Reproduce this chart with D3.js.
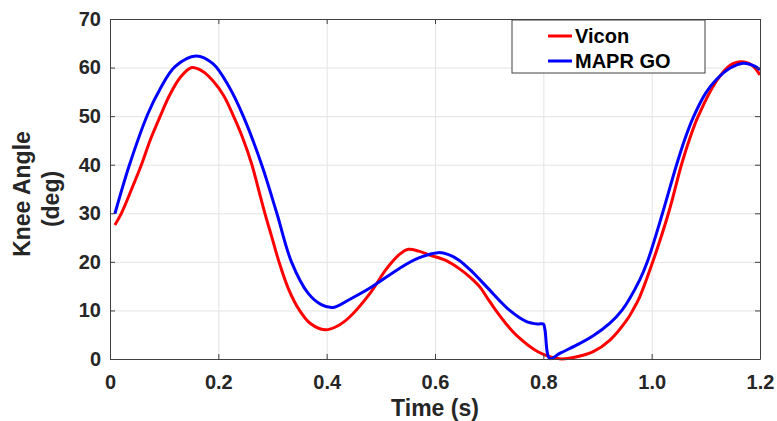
<!DOCTYPE html>
<html>
<head>
<meta charset="utf-8">
<script src="https://cdn.jsdelivr.net/npm/d3@7"></script>
<style>
  body { margin: 0; background: #fff; }
  svg { display: block; font-family: 'Liberation Sans', Arial, sans-serif; }
</style>
</head>
<body>
<svg id="chart" width="777" height="421"></svg>
<script>
// values
const seriesNames = ['Vicon', 'MAPR GO']
const seriesColors = ['#ff0000', '#0000ff']

const viconTime = [0.009, 0.021, 0.04, 0.058, 0.075, 0.092, 0.11, 0.13, 0.151, 0.17, 0.19, 0.21, 0.228, 0.245, 0.262, 0.274, 0.286, 0.299, 0.312, 0.33, 0.35, 0.37, 0.397, 0.42, 0.443, 0.48, 0.51, 0.535, 0.551, 0.57, 0.59, 0.62, 0.646, 0.665, 0.683, 0.697, 0.711, 0.73, 0.751, 0.79, 0.83, 0.86, 0.892, 0.923, 0.954, 0.965, 0.978, 1.002, 1.031, 1.055, 1.07, 1.086, 1.12, 1.145, 1.166, 1.185, 1.2]
const viconAngle = [27.6, 30, 35, 40, 45.3, 49.8, 54.3, 58, 60, 59.3, 57.3, 54.2, 50, 45.5, 40, 35, 30, 25, 20, 14.3, 10, 7.3, 6.0, 6.8, 8.7, 13.5, 18.5, 21.6, 22.6, 22.2, 21.4, 20.3, 18.5, 16.8, 14.8, 12.5, 10.2, 7.4, 4.8, 1.5, 0.05, 0.4, 1.5, 3.9, 8.0, 10, 12.8, 20, 30, 40, 45.3, 50, 57.3, 60.5, 61.2, 60.5, 58.5]

const maprTime = [0.009, 0.036, 0.07, 0.092, 0.12, 0.159, 0.19, 0.22, 0.246, 0.28, 0.308, 0.335, 0.366, 0.39, 0.412, 0.443, 0.48, 0.535, 0.57, 0.606, 0.625, 0.645, 0.67, 0.695, 0.738, 0.769, 0.79, 0.8, 0.803, 0.812, 0.831, 0.862, 0.892, 0.923, 0.945, 0.978, 0.992, 1.02, 1.046, 1.062, 1.077, 1.1, 1.12, 1.145, 1.169, 1.19, 1.2]
const maprAngle = [29.9, 40, 50.5, 55.5, 60.2, 62.4, 60.8, 56, 50, 40, 30, 20, 13.5, 11.2, 10.6, 12.3, 14.6, 18.7, 20.8, 21.9, 21.5, 20.3, 17.8, 14.9, 10, 7.7, 7.2, 7.2, 6, 0.1, 1.2, 2.9, 4.8, 7.4, 10, 16.3, 20, 30, 40, 45.5, 49.8, 54.8, 57.6, 59.9, 60.9, 60.3, 59.5]

const xTicks = [0, 0.2, 0.4, 0.6, 0.8, 1.0, 1.2]
const yTicks = [0, 10, 20, 30, 40, 50, 60, 70]

const margin = { top: 19, right: 17, bottom: 62, left: 110 }
const svg = d3.select('#chart')
const width = +svg.attr('width') - margin.left - margin.right
const height = +svg.attr('height') - margin.top - margin.bottom

const x = d3.scaleLinear().domain([0, 1.2]).range([0, width])
const y = d3.scaleLinear().domain([0, 70]).range([height, 0])

const g = svg.append('g').attr('transform', `translate(${margin.left},${margin.top})`)

// grid
g.append('g')
  .attr('class', 'grid')
  .call(d3.axisBottom(x).tickValues(xTicks).tickSize(height).tickFormat(''))
  .call(sel => sel.select('.domain').remove())
g.append('g')
  .attr('class', 'grid')
  .call(d3.axisLeft(y).tickValues(yTicks).tickSize(-width).tickFormat(''))
  .call(sel => sel.select('.domain').remove())
g.selectAll('.grid line').attr('stroke', '#e3e3e3').attr('stroke-width', 1)

// curves
const line = d3.line()
  .x(d => x(d[0]))
  .y(d => y(d[1]))
  .curve(d3.curveCatmullRom.alpha(0.5))

const series = [
  d3.zip(viconTime, viconAngle),
  d3.zip(maprTime, maprAngle)
]

g.selectAll('path.series')
  .data(series)
  .join('path')
  .attr('class', 'series')
  .attr('fill', 'none')
  .attr('stroke', (d, i) => seriesColors[i])
  .attr('stroke-width', 3)
  .attr('stroke-linejoin', 'round')
  .attr('d', line)

// axes (box on, ticks pointing inward)
const fmt = d => (d === 0 ? '0' : d.toFixed(1))
g.append('g')
  .attr('class', 'axis')
  .attr('transform', `translate(0,${height})`)
  .call(d3.axisBottom(x).tickValues(xTicks).tickFormat(fmt).tickSizeInner(-5).tickSizeOuter(0).tickPadding(16))
g.append('g')
  .attr('class', 'axis')
  .call(d3.axisLeft(y).tickValues(yTicks).tickSizeInner(-5).tickSizeOuter(0).tickPadding(9))
g.append('g')
  .attr('class', 'axis')
  .call(d3.axisTop(x).tickValues(xTicks).tickFormat('').tickSizeInner(-5).tickSizeOuter(0))
g.append('g')
  .attr('class', 'axis')
  .attr('transform', `translate(${width},0)`)
  .call(d3.axisRight(y).tickValues(yTicks).tickFormat('').tickSizeInner(-5).tickSizeOuter(0))

g.selectAll('.axis .domain, .axis .tick line').attr('stroke', '#404040').attr('stroke-width', 1)
g.selectAll('.axis .tick text')
  .attr('fill', '#262626')
  .attr('font-size', 20)
  .attr('font-weight', 'bold')
  .attr('font-family', "'Liberation Sans', Arial, sans-serif")

// axis titles
svg.append('text')
  .attr('x', margin.left + width / 2)
  .attr('y', 416)
  .attr('text-anchor', 'middle')
  .attr('font-size', 23)
  .attr('font-weight', 'bold')
  .attr('fill', '#262626')
  .text('Time (s)')

const yTitle = ['Knee Angle', '(deg)']
svg.selectAll('text.ytitle')
  .data(yTitle)
  .join('text')
  .attr('class', 'ytitle')
  .attr('transform', (d, i) => `translate(${30 + i * 29},${194 + i * 5}) rotate(-90)`)
  .attr('text-anchor', 'middle')
  .attr('font-size', 23)
  .attr('font-weight', 'bold')
  .attr('fill', '#262626')
  .text(d => d)

// legend
const legend = svg.append('g').attr('transform', 'translate(512,20)')
legend.append('rect')
  .attr('width', 193)
  .attr('height', 53)
  .attr('fill', '#fff')
  .attr('stroke', '#404040')
  .attr('stroke-width', 1)
const items = legend.selectAll('g.item')
  .data(seriesNames)
  .join('g')
  .attr('class', 'item')
  .attr('transform', (d, i) => `translate(0,${16 + i * 25})`)
items.append('line')
  .attr('x1', 36)
  .attr('x2', 60)
  .attr('stroke', (d, i) => seriesColors[i])
  .attr('stroke-width', 3)
items.append('text')
  .attr('x', 63)
  .attr('dy', '0.35em')
  .attr('font-size', 20)
  .attr('font-weight', 'bold')
  .attr('fill', '#000')
  .text(d => d)
</script>
</body>
</html>
